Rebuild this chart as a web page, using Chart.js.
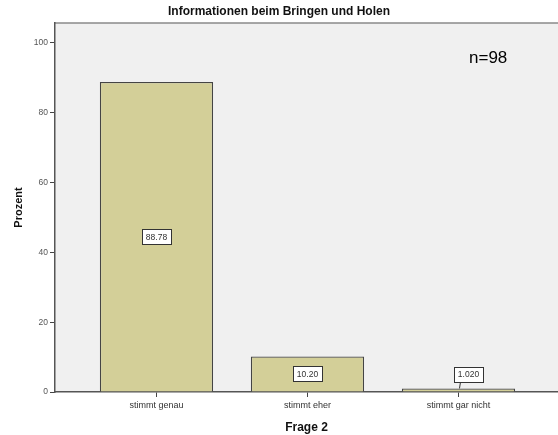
<!DOCTYPE html>
<html>
<head>
<meta charset="utf-8">
<script src="https://cdn.jsdelivr.net/npm/chart.js@4"></script>
<style>
  html, body { margin: 0; padding: 0; background: #fff; overflow: hidden; }
  #wrap { width: 558px; height: 435px; }
</style>
</head>
<body>
<div id="wrap"><canvas id="chart"></canvas></div>
<script>
const categories = ['stimmt genau', 'stimmt eher', 'stimmt gar nicht'];
const percentValues = [88.78, 10.20, 1.02];
const valueLabels = ['88.78', '10.20', '1.020'];
const yTicks = [0, 20, 40, 60, 80, 100];

// Hintergrund der Plotfläche + obere Linie
const plotBackground = {
    id: 'plotBackground',
    beforeDraw(chart) {
        const { ctx, chartArea: a } = chart;
        ctx.save();
        ctx.fillStyle = '#f0f0f0';
        ctx.fillRect(a.left, a.top, a.right - a.left, a.bottom - a.top);
        ctx.strokeStyle = '#8a8a8a';
        ctx.lineWidth = 1.5;
        ctx.beginPath();
        ctx.moveTo(a.left, a.top);
        ctx.lineTo(a.right, a.top);
        ctx.stroke();
        ctx.restore();
    },
    afterDraw(chart) {
        const { ctx } = chart;
        ctx.save();
        ctx.fillStyle = '#000';
        ctx.font = '17px "Liberation Sans", Arial, sans-serif';
        ctx.textAlign = 'left';
        ctx.textBaseline = 'middle';
        ctx.fillText('n=98', 469, 58);
        ctx.restore();
    }
};

// Wertbeschriftungen in Kästchen
const boxLabels = {
    id: 'boxLabels',
    afterDatasetsDraw(chart) {
        const { ctx } = chart;
        const meta = chart.getDatasetMeta(0);
        ctx.save();
        ctx.font = '8.5px "Liberation Sans", Arial, sans-serif';
        ctx.textAlign = 'center';
        ctx.textBaseline = 'middle';
        meta.data.forEach((bar, i) => {
            const text = valueLabels[i];
            const h = bar.base - bar.y;
            let cx = bar.x, cy = (bar.y + bar.base) / 2;
            const w = 29, bh = 15;
            if (h < 20) {
                cx = bar.x + 10;
                cy = bar.y - 14;
                ctx.strokeStyle = '#333';
                ctx.lineWidth = 1;
                ctx.beginPath();
                ctx.moveTo(bar.x + 2, cy + bh / 2);
                ctx.lineTo(bar.x + 1, bar.y);
                ctx.stroke();
            }
            ctx.fillStyle = '#fff';
            ctx.fillRect(cx - w / 2, cy - bh / 2, w, bh);
            ctx.strokeStyle = '#333';
            ctx.lineWidth = 1;
            ctx.strokeRect(Math.round(cx - w / 2) + 0.5, Math.round(cy - bh / 2) + 0.5, w, bh);
            ctx.fillStyle = '#333';
            ctx.fillText(text, cx, cy + 0.5);
        });
        ctx.restore();
    }
};

new Chart(document.getElementById('chart'), {
    type: 'bar',
    data: {
        datasets: [{
            data: percentValues.map((v, i) => ({ x: i + 1, y: v })),
            backgroundColor: '#d3cf98',
            borderColor: '#444',
            borderWidth: 1.3,
            categoryPercentage: 1,
            barPercentage: 0.75
        }]
    },
    options: {
        responsive: true,
        maintainAspectRatio: false,
        animation: false,
        layout: { padding: 0 },
        plugins: {
            legend: { display: false },
            tooltip: { enabled: false },
            title: {
                display: true,
                text: 'Informationen beim Bringen und Holen',
                color: '#111',
                font: { family: '"Liberation Sans", Arial, sans-serif', size: 12, weight: 'bold' },
                padding: { top: 4, bottom: 4.6 }
            }
        },
        scales: {
            x: {
                type: 'linear',
                offset: false,
                min: 0.328,
                max: 3.659,
                afterBuildTicks: scale => { scale.ticks = categories.map((c, i) => ({ value: i + 1 })); },
                afterFit: scale => { scale.height = 43; },
                ticks: {
                    callback: v => categories[v - 1],
                    color: '#333',
                    font: { family: '"Liberation Sans", Arial, sans-serif', size: 9 },
                    padding: 3,
                    maxRotation: 0
                },
                grid: { offset: false, drawOnChartArea: false, tickLength: 5, color: '#444' },
                border: { color: '#555', width: 1.5 },
                title: {
                    display: true,
                    text: 'Frage 2',
                    color: '#111',
                    font: { family: '"Liberation Sans", Arial, sans-serif', size: 12, weight: 'bold' },
                    padding: { top: 3, bottom: 0 }
                }
            },
            y: {
                min: 0,
                max: 105.7,
                afterBuildTicks: scale => { scale.ticks = yTicks.map(v => ({ value: v })); },
                afterFit: scale => { scale.width = 55; },
                ticks: {
                    color: '#555',
                    font: { family: '"Liberation Sans", Arial, sans-serif', size: 8.5 },
                    padding: 2
                },
                grid: { drawOnChartArea: false, tickLength: 5, color: '#444' },
                border: { color: '#555', width: 1.5 },
                title: {
                    display: true,
                    text: 'Prozent',
                    color: '#111',
                    font: { family: '"Liberation Sans", Arial, sans-serif', size: 11, weight: 'bold' },
                    padding: { top: 12, bottom: 0 }
                }
            }
        }
    },
    plugins: [plotBackground, boxLabels]
});
</script>
</body>
</html>
